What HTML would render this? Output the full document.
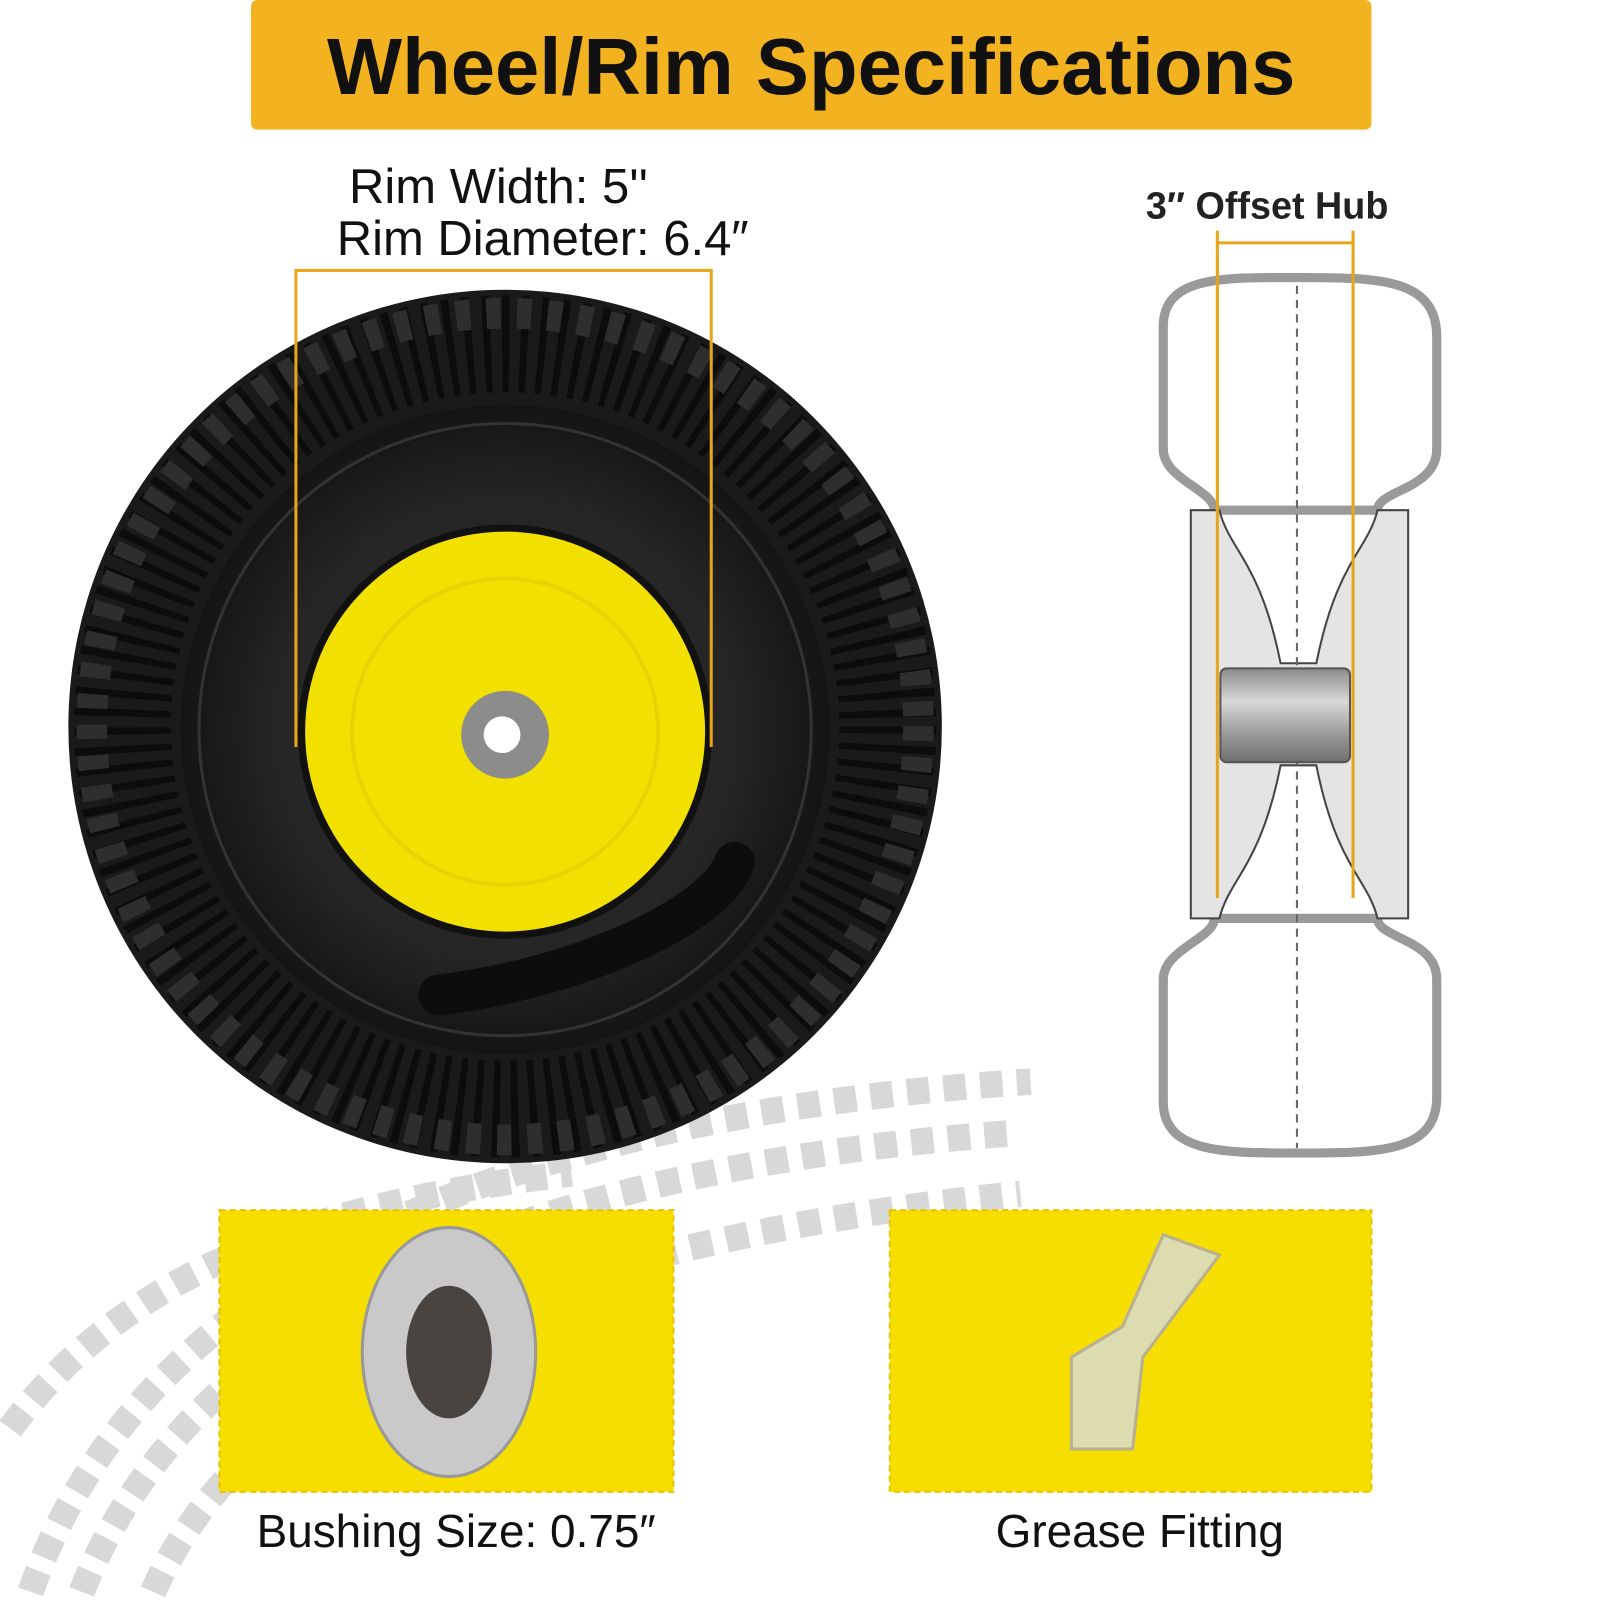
<!DOCTYPE html>
<html><head><meta charset="utf-8"><style>
html,body{margin:0;padding:0;background:#fff;}
svg{display:block}
text{font-family:"Liberation Sans","DejaVu Sans",sans-serif}
</style></head><body>
<svg width="1600" height="1600" viewBox="0 0 1568 1568" xmlns="http://www.w3.org/2000/svg">
<defs>
<linearGradient id="hub" x1="0" y1="0" x2="0" y2="1">
<stop offset="0" stop-color="#8a8a8a"/><stop offset="0.35" stop-color="#d8d8d8"/><stop offset="0.7" stop-color="#9a9a9a"/><stop offset="1" stop-color="#6e6e6e"/></linearGradient>
<radialGradient id="tireg" cx="0.5" cy="0.5" r="0.5"><stop offset="0.7" stop-color="#262626"/><stop offset="1" stop-color="#141414"/></radialGradient>
</defs>
<rect width="1568" height="1568" fill="#fff"/>
<g fill="none" stroke="#d8d8d8" stroke-width="26" stroke-dasharray="22 14">
<path d="M30 1560 C 120 1300, 400 1100, 1010 1060"/>
<path d="M80 1560 C 170 1330, 430 1150, 1000 1110"/>
<path d="M10 1400 C 120 1250, 300 1180, 560 1150"/>
<path d="M150 1560 C 220 1400, 420 1230, 1000 1170"/>
</g>
<rect x="246" y="0" width="1098" height="127" rx="6" fill="#F3B21F"/>
<text x="795" y="92" text-anchor="middle" font-size="78" font-weight="bold" fill="#111">Wheel/Rim Specifications</text>
<circle cx="495" cy="712" r="428" fill="#1a1a1a"/>
<circle cx="495" cy="712" r="375" fill="none" stroke="#0c0c0c" stroke-width="95" stroke-dasharray="7 11"/>
<circle cx="495" cy="712" r="405" fill="none" stroke="#2e2e2e" stroke-width="30" stroke-dasharray="14 16"/>
<circle cx="495" cy="715" r="318" fill="url(#tireg)"/>
<circle cx="495" cy="715" r="300" fill="none" stroke="#333" stroke-width="3"/>
<circle cx="495" cy="717" r="203" fill="#111"/>
<circle cx="495" cy="717" r="196" fill="#F2E000"/>
<circle cx="495" cy="717" r="150" fill="none" stroke="#e6d400" stroke-width="4"/>
<circle cx="495" cy="720" r="43" fill="#8c8c8c"/>
<circle cx="492" cy="720" r="18" fill="#fff"/>
<path d="M430 975 C 560 960, 700 900, 720 845" stroke="#0d0d0d" stroke-width="40" fill="none" stroke-linecap="round"/>
<g stroke="#E7A51A" stroke-width="3" fill="none">
<path d="M290 732 V265 H697 V732"/>
</g>
<text x="342" y="199" font-size="48" fill="#111">Rim Width: 5''</text>
<text x="330" y="250" font-size="48" fill="#111">Rim Diameter: 6.4″</text>
<text x="1123" y="214" font-size="37" font-weight="bold" fill="#222">3″ Offset Hub</text>
<path d="M1140 320 C1140 270 1200 272 1270 272 C1350 272 1408 272 1408 330 V440 C1408 480 1350 480 1350 500 H1190 C1190 480 1140 470 1140 440 Z" fill="#fff" stroke="#9a9a9a" stroke-width="9"/>
<path d="M1140 1080 C1140 1130 1200 1130 1270 1130 C1350 1130 1408 1130 1408 1075 V960 C1408 920 1350 920 1350 900 H1190 C1190 920 1140 930 1140 960 Z" fill="#fff" stroke="#9a9a9a" stroke-width="9"/>
<path d="M1167 500 H1195 C1205 540 1235 550 1255 650 H1290 C1310 550 1340 540 1350 500 H1380 V900 H1350 C1340 860 1310 850 1290 750 H1255 C1235 850 1205 860 1195 900 H1167 Z" fill="#e4e4e4" stroke="#444" stroke-width="2"/>
<line x1="1271" y1="280" x2="1271" y2="1125" stroke="#666" stroke-width="2" stroke-dasharray="8 6"/>
<rect x="1196" y="655" width="127" height="92" rx="6" fill="url(#hub)" stroke="#555" stroke-width="2"/>
<g stroke="#E7A51A" stroke-width="3" fill="none">
<line x1="1193" y1="226" x2="1193" y2="880"/><line x1="1326" y1="226" x2="1326" y2="880"/>
<line x1="1193" y1="238" x2="1326" y2="238"/>
</g>
<rect x="215" y="1186" width="445" height="276" fill="#F6DF00" stroke="#e8c400" stroke-width="2" stroke-dasharray="6 4"/>
<ellipse cx="440" cy="1325" rx="85" ry="122" fill="#c9c9c9" stroke="#999" stroke-width="3"/>
<ellipse cx="440" cy="1325" rx="42" ry="65" fill="#4a4440"/>
<rect x="872" y="1186" width="472" height="276" fill="#F6DF00" stroke="#e8c400" stroke-width="2" stroke-dasharray="6 4"/>
<path d="M1140 1210 L1195 1230 L1120 1330 L1110 1420 L1050 1420 L1050 1330 L1100 1300 Z" fill="#dcdcb0" stroke="#b8b090" stroke-width="3"/>
<text x="447" y="1516" text-anchor="middle" font-size="45" fill="#111">Bushing Size: 0.75″</text>
<text x="1117" y="1516" text-anchor="middle" font-size="45" fill="#111">Grease Fitting</text>
</svg>
</body></html>
